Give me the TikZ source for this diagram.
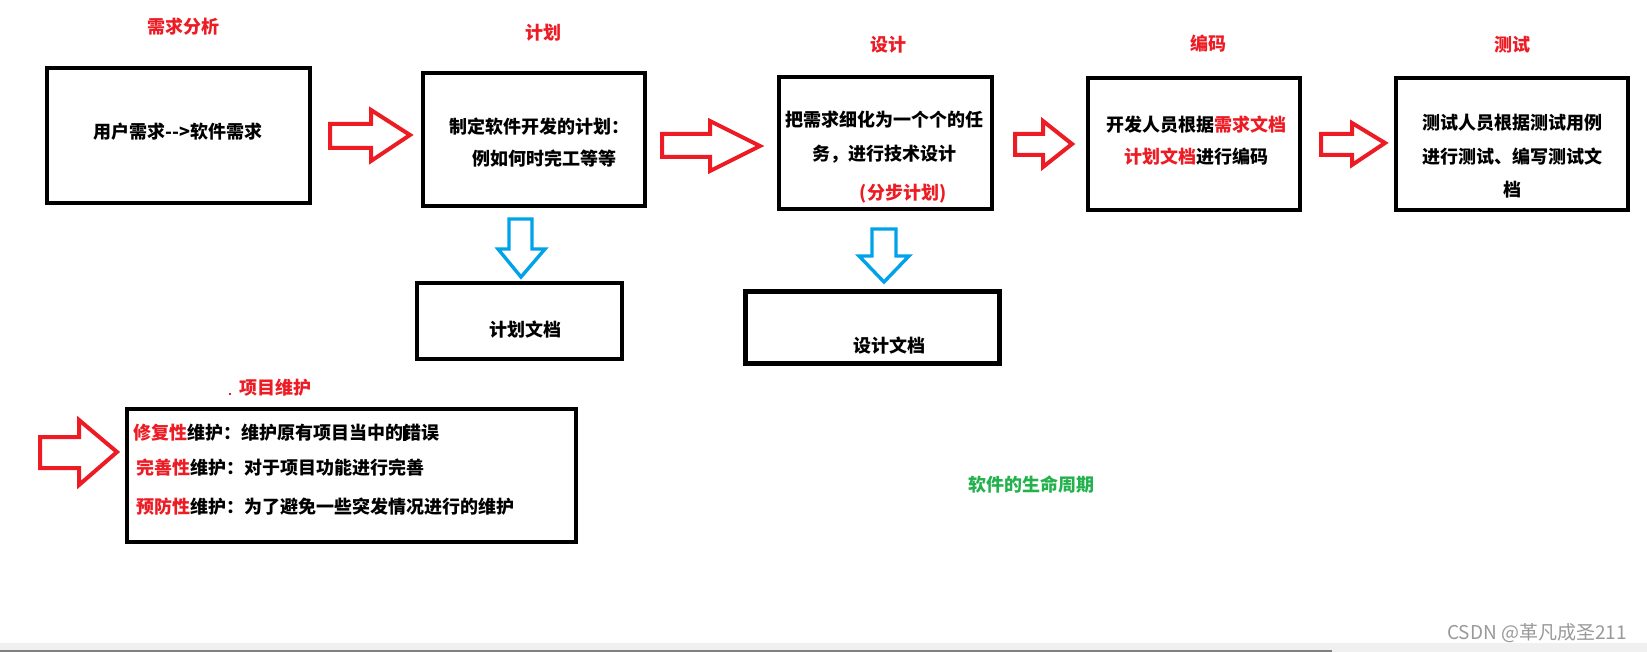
\documentclass[tikz,border=0pt]{standalone}
\usepackage{fontspec}
\setmainfont{Noto Sans CJK SC}
\definecolor{pred}{HTML}{ED1C24}
\definecolor{pblue}{HTML}{00A2E8}
\definecolor{pgreen}{HTML}{22B14C}
\tikzset{
  box/.style={draw=black, line width=4.5pt, inner sep=0pt},
  txt/.style={font=\bfseries\fontsize{18}{20}\selectfont, inner sep=0pt, text=black},
  ttl/.style={txt, text=pred},
  rarr/.style={draw=pred, line width=4pt, line join=miter},
  barr/.style={draw=pblue, line width=3.4pt, line join=miter},
  wmark/.style={txt, font=\fontsize{19}{21}\selectfont, text=black!40},
}
\begin{document}
\begin{tikzpicture}[x=1pt,y=-1pt]
\fill[white] (0,0) rectangle (1647,652);
\useasboundingbox (0,0) rectangle (1647,652);

% titles
\node[ttl] (t1) at (183,27) {需求分析};
\node[ttl] (t2) at (543,33) {计划};
\node[ttl] (t3) at (888,45) {设计};
\node[ttl] (t4) at (1208,44) {编码};
\node[ttl] (t5) at (1512,45) {测试};
\node[ttl] (t6) at (275,388) {项目维护};
\fill[pred] (229,393) rectangle (231,395);

% boxes
\node[box, minimum width=263, minimum height=135] (b1) at (178.5,135.5) {};
\node[box, minimum width=222, minimum height=133] (b2) at (534,139.5) {};
\node[box, minimum width=205, minimum height=76] (d2) at (519.5,321) {};
\node[box, minimum width=213, minimum height=132] (b3) at (885.5,143) {};
\node[box, minimum width=254, minimum height=72] (d3) at (872.5,327.5) {};
\node[box, minimum width=212, minimum height=132] (b4) at (1194,144) {};
\node[box, minimum width=232, minimum height=132] (b5) at (1512,144) {};
\node[box, minimum width=449, minimum height=133] (m) at (351.5,475.5) {};

% box texts
\node[txt] (x1) at (178,132) {用户需求-{}-{}>软件需求};
\node[txt] (x2a) at (539,127) {制定软件开发的计划：};
\node[txt] (x2b) at (544,159) {例如何时完工等等};
\node[txt] (x2d) at (525,330) {计划文档};
\node[txt] (x3a) at (884,120) {把需求细化为一个个的任};
\node[txt] (x3b) at (884,154) {务，进行技术设计};
\node[ttl] (x3c) at (903,194) {(分步计划)};
\node[txt] (x3d) at (889,346) {设计文档};
\node[txt] (x4a) at (1196,125) {开发人员根据{\color{pred}需求文档}};
\node[txt] (x4b) at (1196,157) {{\color{pred}计划文档}进行编码};
\node[txt] (x5a) at (1512,123) {测试人员根据测试用例};
\node[txt] (x5b) at (1512,157) {进行测试、编写测试文};
\node[txt] (x5c) at (1512,190) {档};
\node[txt, anchor=west] (m1) at (133,433) {{\color{pred}修复性}维护：维护原有项目当中的错误};
\node[txt, anchor=west] (m2) at (136,468) {{\color{pred}完善性}维护：对于项目功能进行完善};
\node[txt, anchor=west] (m3) at (136,507) {{\color{pred}预防性}维护：为了避免一些突发情况进行的维护};
\fill[black] (403,426) rectangle (406,441);
\node[txt, text=pgreen] (g) at (1031,485) {软件的生命周期};

% red block arrows
\draw[rarr] (330,124) -- (371,124) -- (371,110) -- (410,135) -- (371,161) -- (371,148) -- (330,148) -- cycle;
\draw[rarr] (662,134) -- (710,134) -- (710,121) -- (760,146) -- (710,171) -- (710,157) -- (662,157) -- cycle;
\draw[rarr] (1015,134) -- (1043,134) -- (1043,121) -- (1072,144) -- (1043,167) -- (1043,155) -- (1015,155) -- cycle;
\draw[rarr] (1321,134) -- (1352,134) -- (1352,123) -- (1385,143) -- (1352,165) -- (1352,155) -- (1321,155) -- cycle;
\draw[rarr] (40,437) -- (79,437) -- (79,420) -- (117,452) -- (79,485) -- (79,468) -- (40,468) -- cycle;

% blue block arrows
\draw[barr] (509,219) -- (532,219) -- (532,249) -- (545,249) -- (521,277) -- (498,249) -- (509,249) -- cycle;
\draw[barr] (872,229) -- (896,229) -- (896,256) -- (909,256) -- (884,282) -- (859,256) -- (872,256) -- cycle;

% bottom band and watermark
\fill[black!6] (0,643) rectangle (1647,652);
\fill[black!50] (0,650) rectangle (1332,652);
\node[wmark] (wm) at (1537,633) {CSDN @革凡成圣211};
\end{tikzpicture}
\end{document}
